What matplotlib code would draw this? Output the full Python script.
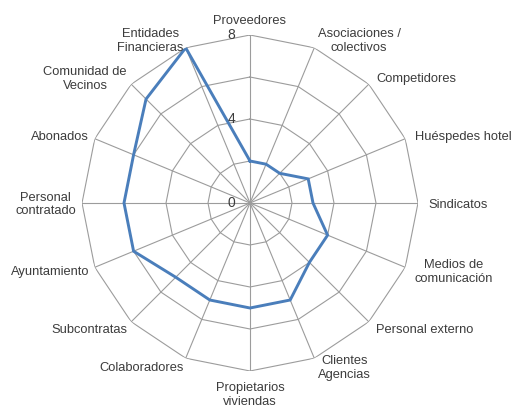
import numpy as np
import matplotlib
matplotlib.use("Agg")
import matplotlib.pyplot as plt

# Stakeholders and their scores
categorias = ["Proveedores", "Asociaciones /\ncolectivos", "Competidores", "Huéspedes hotel",
              "Sindicatos", "Medios de\ncomunicación", "Personal externo", "Clientes\nAgencias",
              "Propietarios\nviviendas", "Colaboradores", "Subcontratas", "Ayuntamiento",
              "Personal\ncontratado", "Abonados", "Comunidad de\nVecinos", "Entidades\nFinancieras"]
valores = [2, 2, 2, 3, 3, 4, 4, 5, 5, 5, 5, 6, 6, 6, 7, 8]
anillos = [2, 4, 6, 8]
etiquetas_eje = [0, 4, 8]

plt.rcParams['font.family'] = ['Liberation Sans', 'DejaVu Sans']

W, H = 512, 407
fig = plt.figure(figsize=(W / 100, H / 100), dpi=100)
cx, cy, R = 250, 204, 168
ax = fig.add_axes([(cx - R) / W, (cy - R) / H, 2 * R / W, 2 * R / H], polar=True)
ax.set_theta_zero_location('N')
ax.set_theta_direction(-1)
ax.set_ylim(0, 8)
ax.axis('off')

n = len(categorias)
ang = np.linspace(0, 2 * np.pi, n, endpoint=False)
ang_c = np.append(ang, ang[0])

grid_col = '#9c9c9c'
# polygon rings
for r in anillos:
    ax.plot(ang_c, [r] * (n + 1), color=grid_col, lw=0.8, zorder=1)
# spokes
for a in ang:
    ax.plot([a, a], [0, 8], color=grid_col, lw=0.8, zorder=1)

# data series
ax.plot(ang_c, valores + valores[:1], color='#4a7ebb', lw=2.1, zorder=3,
        solid_joinstyle='miter')

# radial tick labels
for v in etiquetas_eje:
    ax.annotate(str(v), xy=(0, v), xytext=(-10.5, 0), textcoords='offset points',
                ha='right', va='center', fontsize=10, color='#3c3c3c',
                annotation_clip=False)

# category labels (offsets in pixels, converted to points)
px = 72 / 100
for a, lab in zip(ang, categorias):
    s = np.sin(a)
    c = np.cos(a)
    if abs(s) < 0.2:
        ha = 'center'
        va = 'bottom' if c > 0 else 'top'
        dx = 0
    else:
        ha = 'left' if s > 0 else 'right'
        va = 'center'
        dx = -1 if s > 0 else 5.5 * (-s)
    dy = -(1.5 + 2.5 * c)
    ax.annotate(lab, xy=(a, 8.55), xytext=(dx * px, dy * px), textcoords='offset points',
                ha=ha, va=va, multialignment='center', annotation_clip=False,
                fontsize=9.3, color='#3c3c3c', linespacing=1.22)

fig.savefig('out.png', dpi=100)
